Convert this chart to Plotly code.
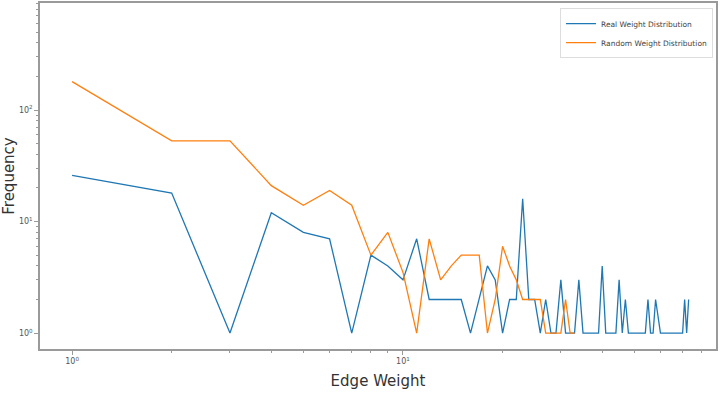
import plotly.graph_objects as go

# Real weight distribution (edge weight -> frequency)
real_x = [1, 2, 3, 4, 5, 6, 7, 8, 9, 10, 11, 12, 13, 14, 15, 16, 17, 18, 19, 20,
          21, 22, 23, 24, 25, 26, 27, 28, 29, 30, 31, 32, 33, 34, 35, 36, 37, 38, 39, 40,
          41, 42, 43, 44, 45, 46, 47, 48, 50, 52, 54, 55, 56, 57, 58, 60, 62, 65, 68, 70,
          71, 72, 73]
real_y = [26, 18, 1, 12, 8, 7, 1, 5, 4, 3, 7, 2, 2, 2, 2, 1, 2, 4, 3, 1,
          2, 2, 16, 2, 2, 1, 2, 1, 1, 3, 1, 1, 1, 3, 1, 1, 1, 1, 1, 4,
          1, 1, 1, 1, 3, 1, 2, 1, 1, 1, 1, 2, 1, 1, 2, 1, 1, 1, 1, 1,
          2, 1, 2]

# Random weight distribution
rand_x = [1, 2, 3, 4, 5, 6, 7, 8, 9, 10, 11, 12, 13, 14, 15, 16, 17, 18, 19, 20,
          21, 22, 23, 24, 25, 26, 27, 28, 29, 30, 31, 32, 33]
rand_y = [180, 53, 53, 21, 14, 19, 14, 5, 8, 3.5, 1, 7, 3, 4, 5, 5, 5, 1, 2, 6,
          4, 3, 2, 2, 2, 2, 1, 1, 1, 1, 2, 1, 1]

x_major = [1, 10]
x_major_text = ["10<sup>0</sup>", "10<sup>1</sup>"]
x_minor = [2, 3, 4, 5, 6, 7, 8, 9, 20, 30, 40, 50, 60, 70, 80, 90]
y_major = [1, 10, 100]
y_major_text = ["10<sup>0</sup>", "10<sup>1</sup>", "10<sup>2</sup>"]
y_minor = [2, 3, 4, 5, 6, 7, 8, 9, 20, 30, 40, 50, 60, 70, 80, 90, 200, 300, 400, 500, 600, 700, 800, 900]

fig = go.Figure()
fig.add_trace(go.Scatter(x=real_x, y=real_y, mode="lines", name="Real Weight Distribution",
                         line=dict(color="#1f77b4", width=1.3)))
fig.add_trace(go.Scatter(x=rand_x, y=rand_y, mode="lines", name="Random Weight Distribution",
                         line=dict(color="#ff7f0e", width=1.3)))

axis_common = dict(type="log", showgrid=False, zeroline=False, showline=True, mirror=True,
                   linecolor="#9a9a9a", linewidth=1.5, ticks="outside", ticklen=4,
                   tickcolor="#9a9a9a", tickfont=dict(size=8, color="#555555"),
                   automargin=False)

fig.update_xaxes(**axis_common, range=[-0.097, 1.946], tickmode="array",
                 tickvals=x_major, ticktext=x_major_text,
                 minor=dict(ticks="outside", ticklen=2, tickcolor="#9a9a9a", tickvals=x_minor),
                 title=dict(text="Edge Weight", font=dict(size=15, color="#333333"), standoff=10))
fig.update_yaxes(**axis_common, range=[-0.143, 2.96], tickmode="array",
                 tickvals=y_major, ticktext=y_major_text,
                 minor=dict(ticks="outside", ticklen=2, tickcolor="#9a9a9a", tickvals=y_minor),
                 title=dict(text="Frequency", font=dict(size=15, color="#333333"), standoff=4))

fig.update_layout(
    width=720, height=394,
    margin=dict(l=40, r=4, t=3, b=45, autoexpand=False),
    plot_bgcolor="white", paper_bgcolor="white",
    font=dict(family="DejaVu Sans"),
    legend=dict(x=0.9956, y=0.985, xanchor="right", yanchor="top",
                bgcolor="white", bordercolor="#dddddd", borderwidth=1,
                font=dict(size=7.5, color="#444444"), itemwidth=30,
                tracegroupgap=0),
    showlegend=True,
)

fig.write_html("out.html", config={"displayModeBar": False},
               post_script="document.body.style.margin='0';document.body.style.overflow='hidden';")
